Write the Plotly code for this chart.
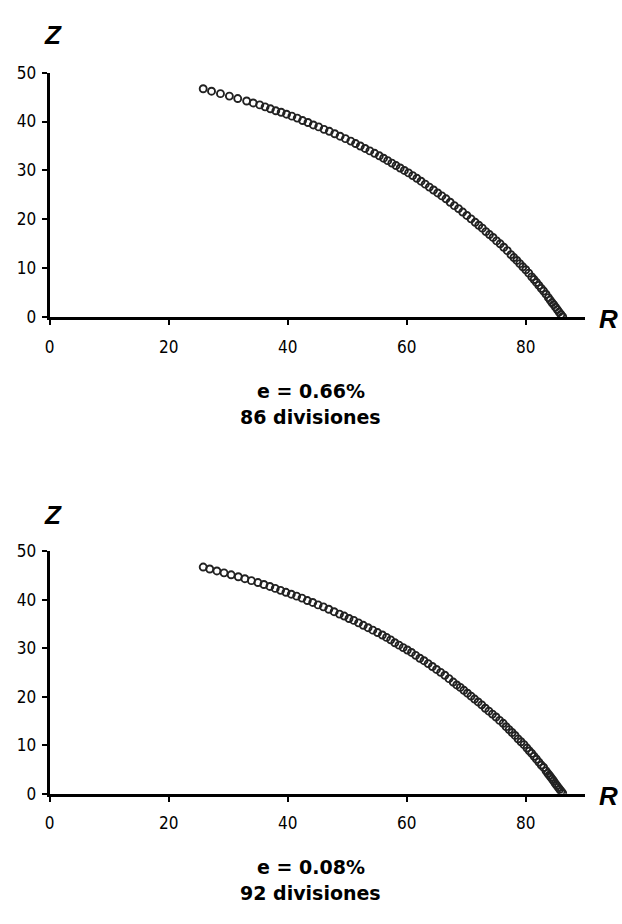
import plotly.graph_objects as go

# ---- data ----
r_top = [25.8, 27.2, 28.7, 30.2, 31.6, 33.1, 34.2, 35.3,
         36.2, 37.1, 38.0, 38.9, 39.8, 40.7, 41.6, 42.5, 43.4, 44.3,
         45.2, 46.1, 47.0, 47.9, 48.8, 49.7, 50.6,
         51.4, 52.2, 53.0, 53.8, 54.6, 55.4,
         56.1, 56.8, 57.5, 58.2, 58.9, 59.6, 60.3, 61.0, 61.7, 62.4, 63.1, 63.8,
         64.5, 65.2, 65.9, 66.6, 67.3, 68.0, 68.7, 69.4, 70.1, 70.8, 71.5,
         72.1, 72.7, 73.3, 73.9, 74.5, 75.1, 75.7, 76.3, 76.9, 77.5,
         78.0, 78.5, 79.0, 79.5, 80.0, 80.5, 81.0,
         81.4, 81.8, 82.2, 82.6, 83.0, 83.4, 83.8,
         84.1, 84.4, 84.7, 85.0, 85.3, 85.6, 85.9, 86.2]
z_top = [46.7, 46.2, 45.7, 45.2, 44.7, 44.2, 43.8, 43.4,
         43.0, 42.6, 42.2, 41.9, 41.5, 41.1, 40.7, 40.2, 39.8, 39.3,
         38.9, 38.4, 38.0, 37.5, 37.0, 36.5, 36.0,
         35.5, 35.0, 34.5, 34.0, 33.5, 33.0,
         32.5, 32.0, 31.5, 31.0, 30.5, 30.0, 29.5, 28.95, 28.4, 27.8, 27.2, 26.6,
         26.0, 25.4, 24.8, 24.2, 23.5, 22.8, 22.2, 21.5, 20.8, 20.1, 19.4,
         18.8, 18.2, 17.5, 16.9, 16.3, 15.6, 15.0, 14.3, 13.6, 12.8,
         12.2, 11.6, 10.95, 10.3, 9.7, 9.0, 8.25,
         7.7, 7.1, 6.5, 5.9, 5.35, 4.7, 4.0,
         3.5, 3.0, 2.55, 2.05, 1.55, 1.05, 0.55, 0.1]

r_bot = [25.8, 26.9, 28.1, 29.3, 30.5, 31.7, 32.8, 33.9, 35.0, 36.0,
         37.0, 37.9, 38.8, 39.7, 40.6, 41.5, 42.4, 43.3, 44.2, 45.1,
         46.0, 46.9, 47.8, 48.7, 49.5, 50.3, 51.1, 51.9, 52.7, 53.5,
         54.3, 55.1, 55.9, 56.6, 57.3, 58.0, 58.7, 59.4, 60.1, 60.8,
         61.5, 62.2, 62.9, 63.6, 64.3, 65.0, 65.7, 66.4, 67.1, 67.8,
         68.4, 69.0, 69.6, 70.2, 70.8, 71.4, 72.0, 72.6, 73.2, 73.8,
         74.4, 75.0, 75.6, 76.2, 76.7, 77.2, 77.7, 78.2, 78.7, 79.2,
         79.7, 80.2, 80.6, 81.0, 81.4, 81.8, 82.2, 82.6, 83.0, 83.4,
         83.7, 83.95, 84.2, 84.45, 84.7, 84.95, 85.2, 85.45, 85.7, 85.95, 86.2]
z_bot = [46.7, 46.3, 45.9, 45.5, 45.1, 44.7, 44.3, 43.9, 43.5, 43.1,
         42.7, 42.3, 41.9, 41.5, 41.1, 40.7, 40.3, 39.8, 39.4, 38.9,
         38.5, 38.0, 37.5, 37.0, 36.6, 36.1, 35.7, 35.2, 34.7, 34.2,
         33.7, 33.2, 32.7, 32.2, 31.7, 31.1, 30.6, 30.1, 29.6, 29.1,
         28.5, 27.9, 27.4, 26.8, 26.2, 25.6, 25.0, 24.4, 23.7, 23.0,
         22.4, 21.9, 21.3, 20.7, 20.1, 19.5, 18.9, 18.3, 17.6, 17.0,
         16.4, 15.8, 15.1, 14.5, 13.8, 13.2, 12.6, 12.0, 11.3, 10.7,
         10.1, 9.4, 8.8, 8.3, 7.7, 7.1, 6.5, 5.9, 5.4, 4.7,
         4.2, 3.8, 3.4, 3.0, 2.6, 2.1, 1.7, 1.3, 0.9, 0.5, 0.1]

x_ticks = [0, 20, 40, 60, 80]
y_ticks = [0, 10, 20, 30, 40, 50]
captions = [("e = 0.66%", "86 divisiones"), ("e = 0.08%", "92 divisiones")]

W, H = 622, 924
fig = go.Figure()

marker = dict(symbol="circle-open", size=7, color="#222", line=dict(width=1.9, color="#222"))
fig.add_trace(go.Scatter(x=r_top, y=z_top, mode="markers", marker=marker, xaxis="x", yaxis="y", showlegend=False))
fig.add_trace(go.Scatter(x=r_bot, y=z_bot, mode="markers", marker=marker, xaxis="x2", yaxis="y2", showlegend=False))

tick_font = dict(family="Liberation Sans Narrow, DejaVu Sans Condensed, Arial Narrow, sans-serif", size=17, color="#000")

def xax(anchor):
    return dict(domain=[45 / W, 585 / W], range=[0, 90], anchor=anchor,
                showgrid=False, zeroline=False, showline=True, linecolor="#000", linewidth=3,
                ticks="outside", ticklen=5, tickwidth=2, tickcolor="#000",
                tickvals=x_ticks, ticklabelstandoff=7, tickfont=tick_font)

def yax(anchor, dom):
    return dict(domain=dom, range=[0, 50], anchor=anchor,
                showgrid=False, zeroline=False, showline=True, linecolor="#000", linewidth=3,
                ticks="outside", ticklen=5, tickwidth=2, tickcolor="#000",
                tickvals=y_ticks, ticklabelstandoff=2, tickfont=tick_font)

top_dom = [(H - 314) / H, (H - 64) / H]
bot_dom = [(H - 801) / H, (H - 553) / H]

annotations = []
lab_font = dict(family="Liberation Sans, Arial, sans-serif", size=26, color="#000")
cap_font = dict(family="DejaVu Sans, Liberation Sans, Arial, sans-serif", size=19, color="#000")
for (zy, ry, c1, c2), cap in zip([(26, 316, 389, 416), (516, 803, 876, 903)], captions):
    annotations.append(dict(x=48 / W, y=1 - zy / H, xref="paper", yref="paper", text="<b><i>Z</i></b>",
                            showarrow=False, font=lab_font, xanchor="center", yanchor="middle"))
    annotations.append(dict(x=608 / W, y=1 - ry / H, xref="paper", yref="paper", text="<b><i>R</i></b>",
                            showarrow=False, font=lab_font, xanchor="center", yanchor="middle"))
    annotations.append(dict(x=308 / W, y=1 - c1 / H, xref="paper", yref="paper", text="<b>" + cap[0] + "</b>",
                            showarrow=False, font=cap_font, xanchor="center", yanchor="middle"))
    annotations.append(dict(x=308 / W, y=1 - c2 / H, xref="paper", yref="paper", text="<b>" + cap[1] + "</b>",
                            showarrow=False, font=cap_font, xanchor="center", yanchor="middle"))

fig.update_layout(
    width=W, height=H, margin=dict(l=0, r=0, t=0, b=0),
    paper_bgcolor="white", plot_bgcolor="white",
    xaxis=xax("y"), yaxis=yax("x", top_dom),
    xaxis2=xax("y2"), yaxis2=yax("x2", bot_dom),
    annotations=annotations,
)

fig.write_html("out.html", config={"displayModeBar": False})

# remove the default page margin so the figure sits at the window's top-left corner
with open("out.html", "r", encoding="utf-8") as f:
    html = f.read()
html = html.replace("<head>", "<head><style>html,body{margin:0;padding:0;overflow:hidden;}</style>", 1)
with open("out.html", "w", encoding="utf-8") as f:
    f.write(html)
